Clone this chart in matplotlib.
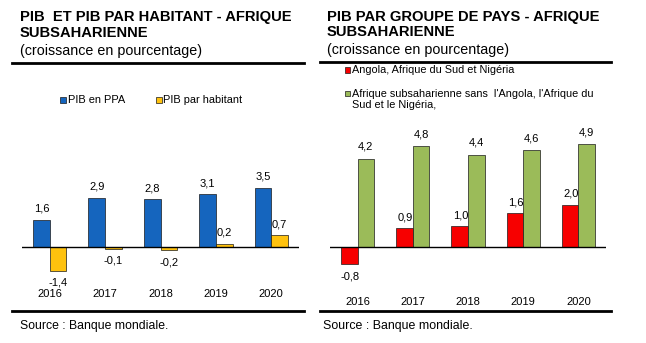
import matplotlib
matplotlib.use("Agg")
import matplotlib.pyplot as plt
from matplotlib.patches import Rectangle
from matplotlib.lines import Line2D
from matplotlib.transforms import blended_transform_factory
import numpy as np

plt.rcParams['font.family'] = ['Liberation Sans', 'DejaVu Sans']

# ---- data ----
years = ["2016", "2017", "2018", "2019", "2020"]
pib_ppa = [1.6, 2.9, 2.8, 3.1, 3.5]
pib_hab = [-1.4, -0.1, -0.2, 0.2, 0.7]
ags_vals = [-0.8, 0.9, 1.0, 1.6, 2.0]
reste_vals = [4.2, 4.8, 4.4, 4.6, 4.9]

left_title = ["PIB  ET PIB PAR HABITANT - AFRIQUE", "SUBSAHARIENNE"]
right_title = ["PIB PAR GROUPE DE PAYS - AFRIQUE", "SUBSAHARIENNE"]
subtitle = "(croissance en pourcentage)"
left_legend = ["PIB en PPA", "PIB par habitant"]
right_legend = ["Angola, Afrique du Sud et Nigéria",
                "Afrique subsaharienne sans  l'Angola, l'Afrique du",
                "Sud et le Nigéria,"]
source = "Source : Banque mondiale."

BLUE = "#1565BE"
YELLOW = "#FFC20E"
RED = "#F70000"
GREEN = "#9BBB59"
EDGE = "#1a1a1a"

W, H = 646, 343
fig = plt.figure(figsize=(W / 100, H / 100), dpi=100)


def fx(x):
    return x / W


def fy(y):
    return 1 - y / H


def fmt(v):
    return f"{v:.1f}".replace(".", ",")


def hline(x0, x1, y, lw=2.0):
    fig.add_artist(Line2D([fx(x0), fx(x1)], [fy(y), fy(y)], color="black",
                          lw=lw, transform=fig.transFigure))


def square(x, y, color, s=5.5):
    fig.add_artist(Rectangle((fx(x), fy(y + s / 2)), s / W, s / H,
                             facecolor=color, edgecolor=EDGE, lw=0.5,
                             transform=fig.transFigure))


def ftext(x, y, s, size, **kw):
    fig.text(fx(x), fy(y), s, fontsize=size, va="baseline", ha="left", **kw)


def make_axes(x0, x1, ytop, ybot, zero_px, scale):
    ax = fig.add_axes([fx(x0), fy(ybot), (x1 - x0) / W, (ybot - ytop) / H])
    ax.set_ylim(-(ybot - zero_px) / scale, (zero_px - ytop) / scale)
    ax.set_xlim(-0.5, len(years) - 0.5)
    ax.axis("off")
    ax.axhline(0, color="black", lw=1.0, zorder=3)
    return ax


def label(ax, x, v, dy_up=11, dy_down=13, zorder=1):
    off = dy_up if v >= 0 else -dy_down
    ax.annotate(fmt(v), (x, v), xytext=(0, off), textcoords="offset pixels",
                ha="center", va="center", fontsize=8, zorder=zorder)


x = np.arange(len(years))
bw = 0.3

# ---------------- left panel ----------------
axL = make_axes(22, 299, 120, 285, 247, 17.0)
axL.bar(x - bw / 2, pib_ppa, bw, color=BLUE, edgecolor=EDGE, lw=0.5, zorder=2)
axL.bar(x + bw / 2, pib_hab, bw, color=YELLOW, edgecolor=EDGE, lw=0.5, zorder=2)
for i in range(len(years)):
    label(axL, x[i] - bw / 2, pib_ppa[i])
    label(axL, x[i] + bw / 2, pib_hab[i], dy_down=12)
trL = blended_transform_factory(axL.transData, fig.transFigure)
for i, yr in enumerate(years):
    axL.text(x[i], fy(294), yr, transform=trL, ha="center", va="center", fontsize=8)

ftext(20, 21, left_title[0], 10.6, fontweight="bold")
ftext(20, 36.7, left_title[1], 10.6, fontweight="bold")
ftext(20, 54.5, subtitle, 10.3)
hline(12, 304, 62.5)
square(60, 100, BLUE)
ftext(67.5, 103, left_legend[0], 7.9)
square(156, 100, YELLOW)
ftext(163, 103, left_legend[1], 7.9)
hline(12, 304, 311)
ftext(20, 328.5, source, 8.85)

# ---------------- right panel ----------------
axR = make_axes(330, 606, 115, 290, 247, 21.0)
axR.bar(x - bw / 2, ags_vals, bw, color=RED, edgecolor=EDGE, lw=0.5, zorder=2)
axR.bar(x + bw / 2, reste_vals, bw, color=GREEN, edgecolor=EDGE, lw=0.5, zorder=2)
for i in range(len(years)):
    label(axR, x[i] - bw / 2 + 0.02, ags_vals[i], zorder=1)
    label(axR, x[i] + bw / 2, reste_vals[i], dy_up=12, zorder=4)
trR = blended_transform_factory(axR.transData, fig.transFigure)
for i, yr in enumerate(years):
    axR.text(x[i], fy(302), yr, transform=trR, ha="center", va="center", fontsize=8)

ftext(327, 21, right_title[0], 10.6, fontweight="bold")
ftext(327, 36.5, right_title[1], 10.6, fontweight="bold")
ftext(327, 54, subtitle, 10.3)
hline(320, 611, 62)
square(345, 70, RED)
ftext(352, 73.3, right_legend[0], 7.8)
square(345, 93.5, GREEN)
ftext(352, 97, right_legend[1], 7.8)
ftext(352, 108, right_legend[2], 7.8)
hline(320, 611, 311)
ftext(323, 328.5, source, 8.95)

fig.savefig("out.png", dpi=100)
